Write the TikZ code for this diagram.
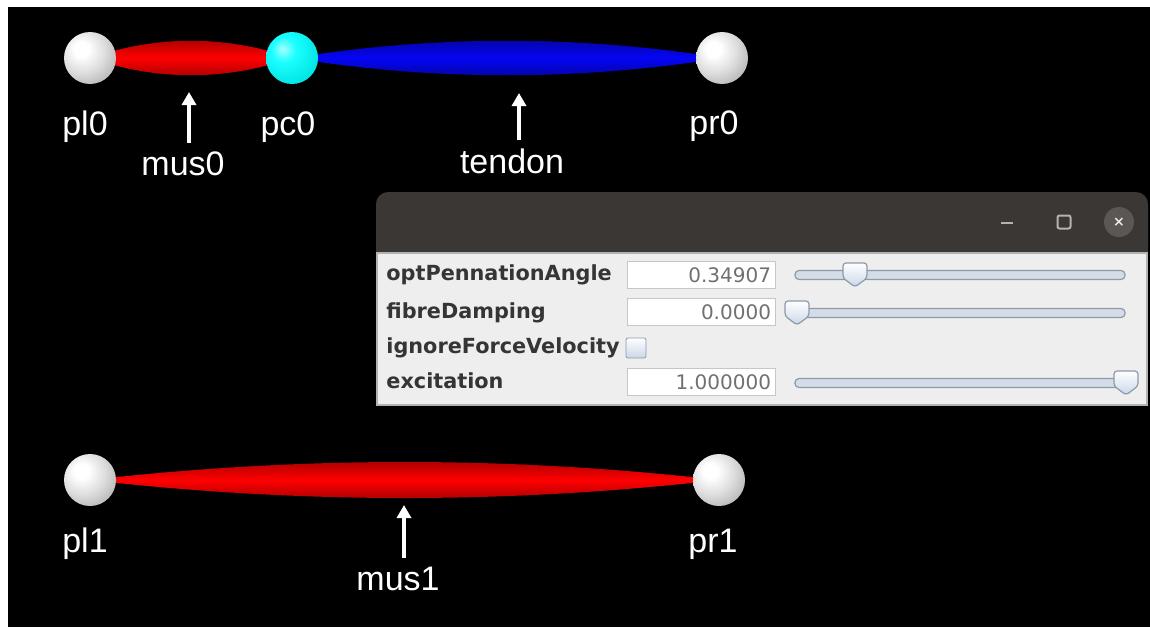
\documentclass[tikz,border=0pt]{standalone}
\usepackage{fontspec}
\setmainfont{Liberation Sans}
\newfontfamily\uifont{DejaVu Sans}
\usetikzlibrary{arrows.meta, calc, backgrounds}
\definecolor{barcol}{HTML}{3B3735}
\definecolor{panelcol}{HTML}{EEEEEE}
\definecolor{closegrey}{HTML}{5B5755}
\definecolor{icongrey}{HTML}{B5B2AF}
\definecolor{labelgrey}{HTML}{353535}
\definecolor{valgrey}{HTML}{707070}
\definecolor{trackfill}{HTML}{D3DCE7}
\definecolor{trackline}{HTML}{8D9AAA}
\definecolor{thumbblue}{HTML}{C9D7E8}
\definecolor{tendonblue}{HTML}{0505F5}
% shaded balls for the points
\pgfdeclareradialshading{pearl}{\pgfpoint{-9bp}{9bp}}{%
  color(0bp)=(white); color(7bp)=(white); color(22bp)=(black!14);
  color(36bp)=(black!30); color(50bp)=(black!50); color(100bp)=(black!50)}
\pgfdeclareradialshading{aqua}{\pgfpoint{-9bp}{9bp}}{%
  color(0bp)=(cyan!35!white); color(12bp)=(cyan!90!white); color(35bp)=(cyan!88!black);
  color(56bp)=(cyan!55!black); color(100bp)=(cyan!55!black)}

\begin{document}
\begin{tikzpicture}[x=0.5pt, y=-0.5pt,
  sphere/.style={circle, minimum size=26pt, inner sep=0pt, shade, shading=pearl},
  joint/.style={sphere, shading=aqua},
  redmuscle/.style={top color=red!60!black, bottom color=red!60!black, middle color=red},
  bluetendon/.style={top color=tendonblue!60!black, bottom color=tendonblue!60!black, middle color=tendonblue},
  spindle/.style={to path={
    .. controls ($(\tikztostart)!0.333!(\tikztotarget)+(0,#1)$)
           and ($(\tikztostart)!0.667!(\tikztotarget)+(0,#1)$) .. (\tikztotarget)
    .. controls ($(\tikztostart)!0.667!(\tikztotarget)-(0,#1)$)
           and ($(\tikztostart)!0.333!(\tikztotarget)-(0,#1)$) .. (\tikztostart)}},
  lbl/.style={text=white, font=\fontsize{17}{20}\selectfont, anchor=base, inner sep=4pt},
  pointer/.style={draw=white, line width=2pt, -{Triangle[length=6.5pt, width=7pt]}},
  param/.style={anchor=west, inner sep=0pt, text height=7.5pt, text depth=2pt,
                text=labelgrey, font=\uifont\fontsize{10.4}{12}\selectfont\bfseries},
  field/.style={draw=gray!45, fill=white, minimum height=13.5pt, text width=70pt,
                align=right, inner sep=2pt, text=valgrey, font=\uifont\fontsize{10}{12}\selectfont},
  track/.style={draw=trackline, fill=trackfill, minimum width=165pt, minimum height=4.5pt,
                rounded corners=2pt, inner sep=0pt, line width=0.6pt},
  checkbox/.style={draw=trackline, top color=white, bottom color=thumbblue,
                   minimum size=10pt, inner sep=0pt, rounded corners=1pt},
  thumb/.pic={
    \draw[trackline, line width=0.6pt, top color=white, bottom color=thumbblue, rounded corners=1.5pt]
      (-12,3) -- (-12,-12) -- (12,-12) -- (12,3) -- (0,12) -- cycle;}
]
  \useasboundingbox (0,0) rectangle (1150,627);
  \begin{scope}[on background layer]
    \fill[white] (0,0) rectangle (1150,627);
    \fill[black] (8,7) rectangle (1150,627);
  \end{scope}

  % upper model: muscle + tendon
  \node[sphere] (pl0) at (90,58) {};
  \node[joint]  (pc0) at (292,58) {};
  \node[sphere] (pr0) at (722,58) {};
  % lower model: plain muscle
  \node[sphere] (pl1) at (90,480) {};
  \node[sphere] (pr1) at (719,480) {};

  \begin{scope}[on background layer]
    \shade[redmuscle]  (pl0.center) to[spindle=23] (pc0.center);
    \shade[bluetendon] (pc0.center) to[spindle=23] (pr0.center);
    \shade[redmuscle]  (pl1.center) to[spindle=24] (pr1.center);
  \end{scope}

  \node[lbl] (pl0lbl) at (85,135) {pl0};
  \node[lbl] (pc0lbl) at (288,135) {pc0};
  \node[lbl] (pr0lbl) at (714,134) {pr0};
  \node[lbl] (mus0) at (183,175) {mus0};
  \node[lbl] (tendon) at (512,173) {tendon};
  \node[lbl] (pl1lbl) at (85,552) {pl1};
  \node[lbl] (pr1lbl) at (713,552) {pr1};
  \node[lbl] (mus1) at (398,590) {mus1};

  \coordinate (mus0tip) at (189,92);
  \coordinate (tendontip) at (519,93);
  \coordinate (mus1tip) at (404,505);
  \draw[pointer] (mus0.north -| mus0tip) -- (mus0tip);
  \draw[pointer] (tendon.north -| tendontip) -- (tendontip);
  \draw[pointer] (mus1.north -| mus1tip) -- (mus1tip);

  % property panel
  \fill[barcol, rounded corners=6pt] (376,192) rectangle (1148,262);
  \fill[panelcol] (376,253) rectangle (1148,406);
  \draw[gray!60, line width=0.6pt] (377,253) rectangle (1147,405);
  \node[fill=icongrey, minimum width=6pt, minimum height=1pt, inner sep=0pt] (minbtn) at (1007,223) {};
  \node[draw=icongrey, line width=1pt, minimum size=6.5pt, inner sep=0pt, rounded corners=1pt] (maxbtn) at (1064,222) {};
  \node[circle, fill=closegrey, minimum size=15pt, inner sep=0pt, text=white!85!gray,
        font=\uifont\fontsize{7}{7}\selectfont\bfseries] (closebtn) at (1119,222) {×};

  \node[param] (optlbl) at (386,275) {optPennationAngle};
  \node[field] (optval) at (701,275) {0.34907};
  \node[track] (opttrack) at (960,275) {};
  \pic at (855,275) {thumb};

  \node[param] (dampinglbl) at (386,313) {fibreDamping};
  \node[field] (dampingval) at (701,312) {0.0000};
  \node[track] (dampingtrack) at (960,313) {};
  \pic at (797,313) {thumb};

  \node[param] (ignorelbl) at (386,348) {ignoreForceVelocity};
  \node[checkbox] (ignorebox) at (636,348) {};

  \node[param] (exclbl) at (386,383) {excitation};
  \node[field] (excval) at (701,382) {1.000000};
  \node[track] (exctrack) at (960,383) {};
  \pic at (1126,383) {thumb};
\end{tikzpicture}
\end{document}
